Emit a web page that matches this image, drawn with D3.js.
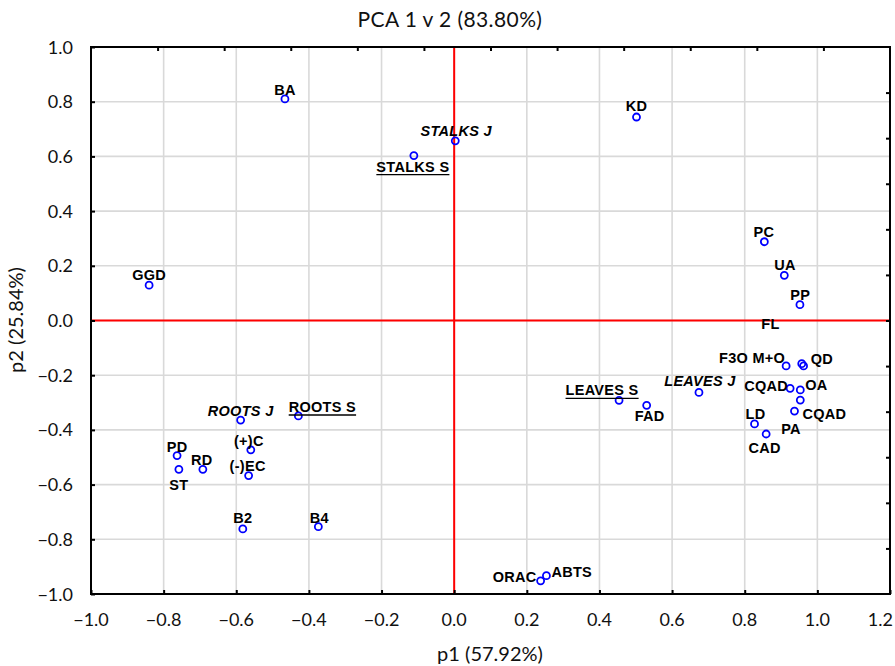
<!DOCTYPE html>
<html>
<head>
<meta charset="utf-8">
<script src="https://cdn.jsdelivr.net/npm/d3@7"></script>
<style>
  html, body { margin: 0; padding: 0; background: #fff; }
  svg { display: block; }
</style>
</head>
<body>
<svg id="chart" width="895" height="666"></svg>
<script>
// ---- data ----
const names = ["BA","KD","STALKS J","STALKS S","GGD","PC","UA","PP","FL","F3O M+O","QD","","CQAD","OA","","CQAD","LD","PA","CAD","LEAVES J","LEAVES S","FAD","ROOTS J","ROOTS S","(+)C","(-)EC","PD","ST","RD","B2","B4","ORAC","ABTS"];
const p1Values = [-0.466,0.502,0.003,-0.111,-0.840,0.854,0.909,0.952,0.871,0.914,0.957,0.962,0.925,0.953,0.953,0.937,0.827,0.859,0.855,0.674,0.454,0.530,-0.588,-0.429,-0.560,-0.566,-0.763,-0.758,-0.692,-0.582,-0.374,0.238,0.254];
const p2Values = [0.810,0.744,0.657,0.603,0.129,0.288,0.165,0.058,-0.046,-0.166,-0.158,-0.166,-0.248,-0.254,-0.291,-0.331,-0.378,-0.415,-0.418,-0.263,-0.292,-0.310,-0.364,-0.349,-0.473,-0.567,-0.494,-0.544,-0.544,-0.762,-0.754,-0.952,-0.933];
const italicNames = ["STALKS J","ROOTS J","LEAVES J"];
const underlineNames = ["STALKS S","ROOTS S","LEAVES S"];
const hiddenMarkers = ["FL","CAD"];
const xTicks = [-1.0,-0.8,-0.6,-0.4,-0.2,0.0,0.2,0.4,0.6,0.8,1.0,1.2];
const yTicks = [-1.0,-0.8,-0.6,-0.4,-0.2,0.0,0.2,0.4,0.6,0.8,1.0];
const title = "PCA 1 v 2 (83.80%)";
const xTitle = "p1 (57.92%)";
const yTitle = "p2 (25.84%)";

// label placement (layout only): [dx, dy, anchor]
const labelOffsets = [
  [0,-4,"middle"],[0,-6,"middle"],[1,-5,"middle"],[-1,16,"middle"],[0,-5,"middle"],
  [-0.5,-5,"middle"],[0.7,-5,"middle"],[0.3,-5,"middle"],[0,-4,"middle"],[-1,-3,"end"],
  [9,0,"start"],null,[-2,3,"end"],[5,0,"start"],null,[8,8,"start"],
  [1,-5,"middle"],[15,0,"start"],[0,18,"middle"],[1,-6,"middle"],[-17,-5,"middle"],
  [3,16,"middle"],[0,-4,"middle"],[24,-4,"middle"],[-2,-4,"middle"],[-1,-5,"middle"],
  [0,-4,"middle"],[0,21,"middle"],[-1,-4,"middle"],[0,-6,"middle"],[1,-4,"middle"],
  [-4,1,"end"],[5,1,"start"]
];

// ---- layout ----
const W = 895, H = 666;
const L = 91, R = 890, T = 47, B = 594;
const svg = d3.select("#chart");
const x = d3.scaleLinear().domain([-1, 1.2]).range([L, R]);
const y = d3.scaleLinear().domain([-1, 1]).range([B, T]);
const tickFont = "Lato, 'Open Sans', sans-serif";
const txtColor = "#111";

// grid
const g = svg.append("g");
g.selectAll(".vg").data(xTicks.slice(1, -1)).join("line")
  .attr("x1", d => x(d)).attr("x2", d => x(d)).attr("y1", T).attr("y2", B)
  .attr("stroke", "#d9d9d9").attr("stroke-width", 1.6);
g.selectAll(".hg").data(yTicks.slice(1, -1)).join("line")
  .attr("y1", d => y(d)).attr("y2", d => y(d)).attr("x1", L).attr("x2", R)
  .attr("stroke", "#d9d9d9").attr("stroke-width", 1.6);

// red zero lines
svg.append("line").attr("x1", L).attr("x2", R).attr("y1", y(0)).attr("y2", y(0))
  .attr("stroke", "#ff0000").attr("stroke-width", 2);
svg.append("line").attr("x1", x(0)).attr("x2", x(0)).attr("y1", T).attr("y2", B)
  .attr("stroke", "#ff0000").attr("stroke-width", 2);

// axes (inward ticks)
const xAxisB = d3.axisTop(x).tickValues(xTicks).tickSize(4).tickFormat("");
const yAxisL = d3.axisRight(y).tickValues(yTicks).tickSize(4).tickFormat("");
const topScale = d3.scaleLinear().domain([0, 12]).range([L, R]);
const rightScale = d3.scaleLinear().domain([0, 12]).range([B, T]);
const xAxisT = d3.axisBottom(topScale).tickValues(d3.range(1, 12)).tickSize(4).tickFormat("");
const yAxisR = d3.axisLeft(rightScale).tickValues(d3.range(1, 12)).tickSize(4).tickFormat("");
function styleAxis(sel) {
  sel.select(".domain").remove();
  sel.selectAll(".tick line").attr("stroke", "#000").attr("stroke-width", 2);
}
svg.append("g").attr("transform", `translate(0,${B})`).call(xAxisB).call(styleAxis);
svg.append("g").attr("transform", `translate(${L},0)`).call(yAxisL).call(styleAxis);
svg.append("g").attr("transform", `translate(0,${T})`).call(xAxisT).call(styleAxis);
svg.append("g").attr("transform", `translate(${R},0)`).call(yAxisR).call(styleAxis);

// frame
svg.append("rect").attr("x", L).attr("y", T).attr("width", R - L).attr("height", B - T)
  .attr("fill", "none").attr("stroke", "#000").attr("stroke-width", 2);

// tick labels
svg.selectAll(".xl").data(xTicks).join("text")
  .attr("x", (d, i) => i === xTicks.length - 1 ? 893 : x(d)).attr("y", B + 32)
  .attr("text-anchor", (d, i) => i === xTicks.length - 1 ? "end" : "middle")
  .attr("font-family", tickFont).attr("font-size", 18)
  .attr("fill", txtColor).text(d => d3.format(".1f")(d));
svg.selectAll(".yl").data(yTicks).join("text")
  .attr("x", 73).attr("y", d => y(d) + 6.5)
  .attr("text-anchor", "end").attr("font-family", tickFont).attr("font-size", 18)
  .attr("fill", txtColor).text(d => d3.format(".1f")(d));

// titles
svg.append("text").attr("x", 450).attr("y", 27).attr("text-anchor", "middle")
  .attr("font-family", tickFont).attr("font-size", 21).attr("letter-spacing", 0.4)
  .attr("fill", txtColor).text(title);
svg.append("text").attr("x", 490).attr("y", 661).attr("text-anchor", "middle")
  .attr("font-family", tickFont).attr("font-size", 20).attr("fill", txtColor).text(xTitle);
svg.append("text").attr("transform", `translate(23,320) rotate(-90)`).attr("text-anchor", "middle")
  .attr("font-family", tickFont).attr("font-size", 20).attr("fill", txtColor).text(yTitle);

// points
const pts = names.map((n, i) => ({ name: n, p1: p1Values[i], p2: p2Values[i], off: labelOffsets[i] }));
svg.append("g").selectAll("circle").data(pts.filter(d => !hiddenMarkers.includes(d.name))).join("circle")
  .attr("cx", d => x(d.p1)).attr("cy", d => y(d.p2)).attr("r", 3.5)
  .attr("fill", "none").attr("stroke", "#0000ff").attr("stroke-width", 1.8);

// labels
const lg = svg.append("g");
pts.filter(d => d.off && d.name).forEach(d => {
  const t = lg.append("text")
    .attr("x", x(d.p1) + d.off[0]).attr("y", y(d.p2) + d.off[1])
    .attr("text-anchor", d.off[2])
    .attr("font-family", "'Liberation Sans', Arial, sans-serif")
    .attr("font-weight", "bold").attr("font-size", 14.5)
    .attr("letter-spacing", 0.3)
    .attr("font-style", italicNames.includes(d.name) ? "italic" : "normal")
    .attr("fill", "#000").text(d.name);
  if (underlineNames.includes(d.name)) {
    const bb = t.node().getBBox();
    lg.append("line").attr("x1", bb.x).attr("x2", bb.x + bb.width)
      .attr("y1", y(d.p2) + d.off[1] + 3).attr("y2", y(d.p2) + d.off[1] + 3)
      .attr("stroke", "#000").attr("stroke-width", 1.4);
  }
});
</script>
</body>
</html>
